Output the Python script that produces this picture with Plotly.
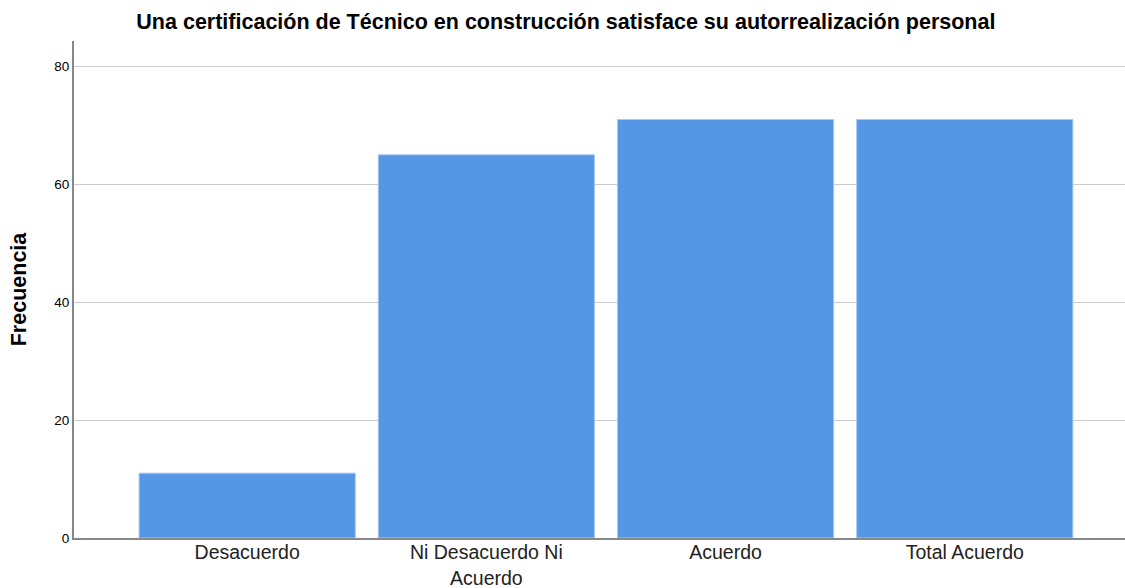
import plotly.graph_objects as go

categories = ["Desacuerdo", "Ni Desacuerdo Ni<br>Acuerdo", "Acuerdo", "Total Acuerdo"]
frecuencia = [11, 65, 71, 71]
y_ticks = [0, 20, 40, 60, 80]

fig = go.Figure(
    go.Bar(
        x=categories,
        y=frecuencia,
        marker=dict(color="#5596E5", line=dict(color="#A9C8F2", width=1)),
        width=0.904,
    )
)

fig.update_layout(
    width=1125,
    height=588,
    margin=dict(l=74, r=0, t=41, b=50, autoexpand=False),
    paper_bgcolor="white",
    plot_bgcolor="white",
    font=dict(family="Liberation Sans, Arial, sans-serif", color="#000"),
    title=dict(
        text="<b>Una certificación de Técnico en construcción satisface su autorrealización personal</b>",
        x=0.503,
        xanchor="center",
        y=0.963,
        yanchor="middle",
        font=dict(size=21.5, color="#000"),
    ),
    showlegend=False,
    bargap=0.096,
)

fig.update_xaxes(
    range=[-0.724, 3.67],
    automargin=False,
    showline=True,
    linecolor="#888888",
    linewidth=2,
    showgrid=False,
    ticks="",
    ticklabelstandoff=-4,
    tickfont=dict(size=19.5, color="#222"),
)

fig.update_yaxes(
    range=[0, 84.3],
    automargin=False,
    tickvals=y_ticks,
    showline=True,
    linecolor="#888888",
    linewidth=2,
    showgrid=True,
    gridcolor="#CCCCCC",
    gridwidth=1,
    ticks="",
    tickfont=dict(size=13.5, color="#000"),
    title=dict(text="<b>Frecuencia</b>", font=dict(size=21.5, color="#000"), standoff=22),
    zeroline=False,
)

fig.write_html("out.html")
